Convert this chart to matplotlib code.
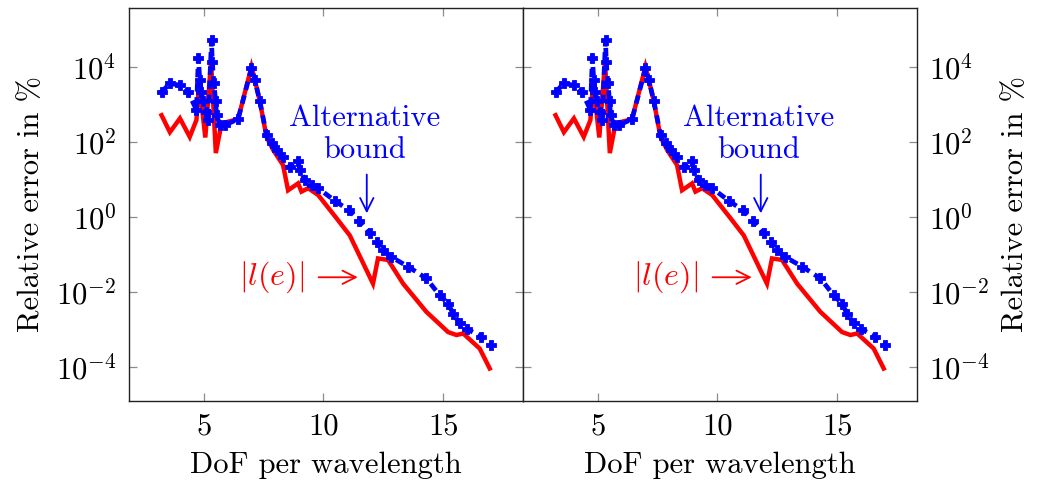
import matplotlib
matplotlib.use("Agg")
import matplotlib.pyplot as plt

# Error curves against resolution (DoF per wavelength)
dof_exact = [3.23, 3.58, 4.0, 4.41, 4.69, 4.8, 5.06, 5.3, 5.5, 5.74, 6.43,
             6.99, 7.13, 7.34, 7.62, 7.9, 8.31, 8.52, 8.94, 9.08, 9.36,
             9.78, 10.55, 11.1, 12.07, 12.28, 12.7, 13.33, 14.3, 15.21,
             15.56, 15.84, 16.53, 16.95]
err_exact = [5.1e2, 1.8e2, 4.2e2, 1.35e2, 3.8e2, 4.0e3, 1.3e2, 1.4e4, 5.0e1,
             3.1e2, 4.0e2, 1.0e4, 4.5e3, 1.2e3, 1.35e2, 6.0e1, 2.4e1, 5.1,
             7.8, 4.7, 5.8, 3.8, 0.91, 0.32, 0.0166, 0.078, 0.071, 0.0166,
             0.00295, 8.5e-4, 7.1e-4, 7.8e-4, 3.1e-4, 9.1e-5]

dof_bound = [3.23, 3.58, 4.0, 4.34, 4.69, 4.77, 4.83, 4.9, 4.97, 5.11, 5.18,
             5.32, 5.35, 5.42, 5.49, 5.53, 5.67, 5.88, 6.43, 6.99, 7.13, 7.34,
             7.62, 7.83, 8.04, 8.31, 8.59, 8.94, 9.01, 9.22, 9.5, 9.78, 10.5,
             11.07, 11.5, 11.94, 12.22, 12.49, 12.84, 13.54, 14.3, 14.86,
             15.21, 15.42, 15.7, 15.98, 16.6, 17.02]
err_bound = [2.1e3, 3.6e3, 3.2e3, 2.1e3, 7.1e2, 1.7e4, 4.4e3, 2.1e3, 1.2e3,
             6.3e2, 3.8e2, 5.1e4, 1.35e4, 3.6e3, 1.2e3, 5.1e2, 2.8e2, 2.8e2,
             4.0e2, 9.1e3, 4.5e3, 1.2e3, 1.5e2, 9.1e1, 6.0e1, 4.0e1, 2.1e1,
             3.0e1, 1.8e1, 9.5, 7.1, 5.8, 2.6, 1.5, 0.79, 0.36, 0.21, 0.13,
             0.085, 0.047, 0.023, 0.0081, 0.0049, 0.0026, 0.00145, 0.00105,
             6.3e-4, 3.8e-4]

x_ticks = [5, 10, 15]
y_exponents = [-4, -2, 0, 2, 4]

plt.rcParams["font.family"] = "serif"
plt.rcParams["font.serif"] = ["cmr10"]
plt.rcParams["mathtext.fontset"] = "cm"
plt.rcParams["axes.unicode_minus"] = False

FONT_SIZE = 22


def draw_panel(ax, label_side):
    ax.plot(dof_exact, err_exact, color="#ff0000", lw=3.2,
            solid_joinstyle="miter", zorder=2)
    ax.plot(dof_bound, err_bound, color="#0000ff", lw=3.4,
            linestyle=(0, (1.8, 1.2)), marker="P", markersize=7.5,
            markeredgewidth=0.6, markeredgecolor="#0000ff", zorder=3)

    ax.set_yscale("log")
    ax.set_xlim(1.87, 18.34)
    ax.set_ylim(1.24e-5, 3.67e5)

    ax.set_xticks(x_ticks, labels=[str(t) for t in x_ticks])
    ax.set_yticks([10.0 ** e for e in y_exponents],
                  labels=[rf"$10^{{{e}}}$" for e in y_exponents])
    ax.minorticks_off()
    ax.tick_params(direction="in", length=6, width=0.9, color="#8c8c8c",
                   labelsize=FONT_SIZE, top=True, right=True, pad=9)
    for spine in ax.spines.values():
        spine.set_linewidth(1.0)
        spine.set_color("#222222")

    ax.set_xlabel("DoF per wavelength", fontsize=FONT_SIZE, labelpad=8)
    if label_side == "right":
        ax.yaxis.set_label_position("right")
        ax.yaxis.tick_right()
        ax.tick_params(left=True, right=True)
    ax.set_ylabel("Relative error in %", fontsize=FONT_SIZE, labelpad=8)

    # Labels pointing at the two curves
    ax.text(11.73, 10.0 ** 2.2, "Alternative\nbound", color="#0000ff",
            fontsize=FONT_SIZE, ha="center", va="center", linespacing=1.22)
    ax.annotate("", xy=(11.81, 10.0 ** 0.02), xytext=(11.81, 10.0 ** 1.2),
                arrowprops=dict(arrowstyle="->", color="#0000ff", lw=1.3,
                                mutation_scale=24))
    ax.text(7.84, 10.0 ** -1.61, r"$|l(e)|$", color="#ff0000",
            fontsize=FONT_SIZE + 1, ha="center", va="center")
    ax.annotate("", xy=(11.55, 10.0 ** -1.61), xytext=(9.68, 10.0 ** -1.61),
                arrowprops=dict(arrowstyle="->", color="#ff0000", lw=1.3,
                                mutation_scale=24))


fig = plt.figure(figsize=(10.47, 4.87), dpi=100)
ax_left = fig.add_axes([0.1232, 0.1766, 0.3763, 0.807])
ax_right = fig.add_axes([0.4995, 0.1766, 0.3763, 0.807])

draw_panel(ax_left, "left")
draw_panel(ax_right, "right")

fig.savefig("out.png", dpi=100)
